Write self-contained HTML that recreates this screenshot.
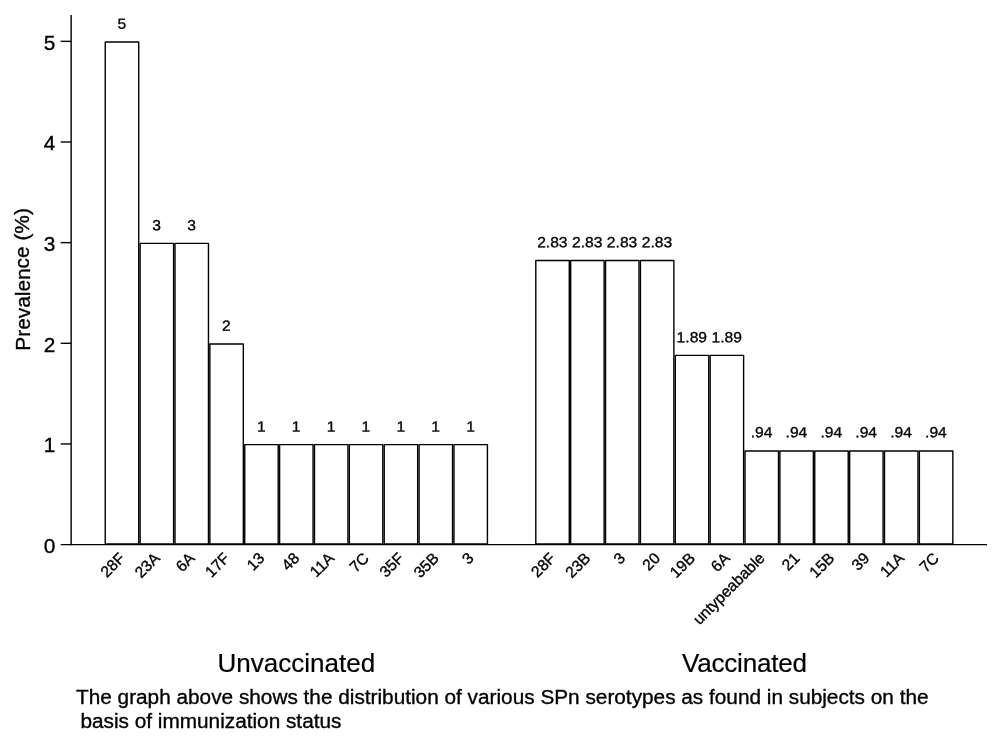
<!DOCTYPE html>
<html lang="en"><head><meta charset="utf-8"><title>Prevalence of SPn serotypes</title>
<style>html,body{margin:0;padding:0;background:#fff}body{width:1000px;height:741px;overflow:hidden}svg{display:block}text{font-family:"Liberation Sans",sans-serif;fill:#000;stroke:#000;stroke-width:.35px;stroke-linejoin:round}</style></head><body>
<svg width="1000" height="741" viewBox="0 0 1000 741">
<rect width="1000" height="741" fill="#fff"/>
<g class="bars unvaccinated" fill="#fff" stroke="#000" stroke-width="1.4" stroke-linejoin="round">
<rect x="105.25" y="42.05" width="33.47" height="501.85"/>
<rect x="140.12" y="243.35" width="33.47" height="300.55"/>
<rect x="174.99" y="243.35" width="33.47" height="300.55"/>
<rect x="209.86" y="344.00" width="33.47" height="199.90"/>
<rect x="244.73" y="444.65" width="33.47" height="99.25"/>
<rect x="279.60" y="444.65" width="33.47" height="99.25"/>
<rect x="314.47" y="444.65" width="33.47" height="99.25"/>
<rect x="349.34" y="444.65" width="33.47" height="99.25"/>
<rect x="384.21" y="444.65" width="33.47" height="99.25"/>
<rect x="419.08" y="444.65" width="33.47" height="99.25"/>
<rect x="453.95" y="444.65" width="33.47" height="99.25"/>
</g>
<g class="values unvaccinated" font-size="15.64" text-anchor="middle">
<text transform="translate(121.78,28.85) rotate(0.03) scale(1,0.94)">5</text>
<text transform="translate(156.66,230.15) rotate(0.03) scale(1,0.94)">3</text>
<text transform="translate(191.53,230.15) rotate(0.03) scale(1,0.94)">3</text>
<text transform="translate(226.39,330.80) rotate(0.03) scale(1,0.94)">2</text>
<text transform="translate(261.26,431.45) rotate(0.03) scale(1,0.94)">1</text>
<text transform="translate(296.13,431.45) rotate(0.03) scale(1,0.94)">1</text>
<text transform="translate(331.00,431.45) rotate(0.03) scale(1,0.94)">1</text>
<text transform="translate(365.88,431.45) rotate(0.03) scale(1,0.94)">1</text>
<text transform="translate(400.75,431.45) rotate(0.03) scale(1,0.94)">1</text>
<text transform="translate(435.62,431.45) rotate(0.03) scale(1,0.94)">1</text>
<text transform="translate(470.49,431.45) rotate(0.03) scale(1,0.94)">1</text>
</g>
<g class="cats unvaccinated" font-size="15.64" text-anchor="end">
<text transform="translate(125.98,559.20) rotate(-45)">28F</text>
<text transform="translate(160.85,559.20) rotate(-45)">23A</text>
<text transform="translate(195.72,559.20) rotate(-45)">6A</text>
<text transform="translate(230.59,559.20) rotate(-45)">17F</text>
<text transform="translate(265.46,559.20) rotate(-45)">13</text>
<text transform="translate(300.33,559.20) rotate(-45)">48</text>
<text transform="translate(335.20,559.20) rotate(-45)">11A</text>
<text transform="translate(370.07,559.20) rotate(-45)">7C</text>
<text transform="translate(404.94,559.20) rotate(-45)">35F</text>
<text transform="translate(439.81,559.20) rotate(-45)">35B</text>
<text transform="translate(474.69,559.20) rotate(-45)">3</text>
</g>
<g class="bars vaccinated" fill="#fff" stroke="#000" stroke-width="1.4" stroke-linejoin="round">
<rect x="535.80" y="260.44" width="33.47" height="283.46"/>
<rect x="570.67" y="260.44" width="33.47" height="283.46"/>
<rect x="605.54" y="260.44" width="33.47" height="283.46"/>
<rect x="640.41" y="260.44" width="33.47" height="283.46"/>
<rect x="675.28" y="355.39" width="33.47" height="188.51"/>
<rect x="710.15" y="355.39" width="33.47" height="188.51"/>
<rect x="745.02" y="450.94" width="33.47" height="92.96"/>
<rect x="779.89" y="450.94" width="33.47" height="92.96"/>
<rect x="814.76" y="450.94" width="33.47" height="92.96"/>
<rect x="849.63" y="450.94" width="33.47" height="92.96"/>
<rect x="884.50" y="450.94" width="33.47" height="92.96"/>
<rect x="919.37" y="450.94" width="33.47" height="92.96"/>
</g>
<g class="values vaccinated" font-size="15.64" text-anchor="middle">
<text transform="translate(552.33,247.24) rotate(0.03) scale(1,0.94)">2.83</text>
<text transform="translate(587.20,247.24) rotate(0.03) scale(1,0.94)">2.83</text>
<text transform="translate(622.07,247.24) rotate(0.03) scale(1,0.94)">2.83</text>
<text transform="translate(656.94,247.24) rotate(0.03) scale(1,0.94)">2.83</text>
<text transform="translate(691.81,342.19) rotate(0.03) scale(1,0.94)">1.89</text>
<text transform="translate(726.68,342.19) rotate(0.03) scale(1,0.94)">1.89</text>
<text transform="translate(761.55,437.14) rotate(0.03) scale(1,0.94)">.94</text>
<text transform="translate(796.42,437.14) rotate(0.03) scale(1,0.94)">.94</text>
<text transform="translate(831.29,437.14) rotate(0.03) scale(1,0.94)">.94</text>
<text transform="translate(866.16,437.14) rotate(0.03) scale(1,0.94)">.94</text>
<text transform="translate(901.03,437.14) rotate(0.03) scale(1,0.94)">.94</text>
<text transform="translate(935.90,437.14) rotate(0.03) scale(1,0.94)">.94</text>
</g>
<g class="cats vaccinated" font-size="15.64" text-anchor="end">
<text transform="translate(556.53,559.20) rotate(-45)">28F</text>
<text transform="translate(591.40,559.20) rotate(-45)">23B</text>
<text transform="translate(626.27,559.20) rotate(-45)">3</text>
<text transform="translate(661.14,559.20) rotate(-45)">20</text>
<text transform="translate(696.01,559.20) rotate(-45)">19B</text>
<text transform="translate(730.88,559.20) rotate(-45)">6A</text>
<text transform="translate(765.75,559.20) rotate(-45)">untypeabable</text>
<text transform="translate(800.62,559.20) rotate(-45)">21</text>
<text transform="translate(835.49,559.20) rotate(-45)">15B</text>
<text transform="translate(870.37,559.20) rotate(-45)">39</text>
<text transform="translate(905.23,559.20) rotate(-45)">11A</text>
<text transform="translate(940.11,559.20) rotate(-45)">7C</text>
</g>
<g class="axes" stroke="#000" stroke-width="1.4" fill="none">
<line x1="71.15" y1="15.1" x2="71.15" y2="545.30"/>
<line x1="60.7" y1="544.6" x2="987" y2="544.6"/>
<line x1="60.7" y1="443.95" x2="71.15" y2="443.95"/>
<line x1="60.7" y1="343.30" x2="71.15" y2="343.30"/>
<line x1="60.7" y1="242.65" x2="71.15" y2="242.65"/>
<line x1="60.7" y1="142.00" x2="71.15" y2="142.00"/>
<line x1="60.7" y1="41.35" x2="71.15" y2="41.35"/>
</g>
<g class="ticks" font-size="20.85" text-anchor="end">
<text x="55.3" y="552.80">0</text>
<text x="55.3" y="452.15">1</text>
<text x="55.3" y="351.50">2</text>
<text x="55.3" y="250.85">3</text>
<text x="55.3" y="150.20">4</text>
<text x="55.3" y="49.55">5</text>
</g>
<text transform="translate(29.5,279.4) rotate(-90.02)" font-size="20.85" text-anchor="middle">Prevalence (%)</text>
<text x="296.3" y="672" font-size="26.06" style="stroke-width:.2px" text-anchor="middle">Unvaccinated</text>
<text x="744.4" y="672" font-size="26.06" style="stroke-width:.2px" text-anchor="middle" letter-spacing="-0.2">Vaccinated</text>
<text x="76.0" y="703.6" font-size="20.79">The graph above shows the distribution of various SPn serotypes as found in subjects on the</text>
<text x="80.4" y="727.9" font-size="20.79">basis of immunization status</text>
</svg></body></html>
